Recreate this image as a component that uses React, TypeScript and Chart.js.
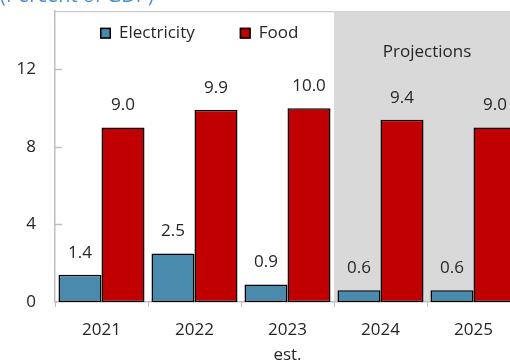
import React, { useEffect, useRef } from "react";
import { Chart, registerables } from "chart.js";

Chart.register(...registerables);

// ---- data ----
const categories: (string | string[])[] = ["2021", "2022", ["2023", "est."], "2024", "2025"];
const electricity = [1.4, 2.5, 0.9, 0.6, 0.6];
const food = [9.0, 9.9, 10.0, 9.4, 9.0];
const yTickValues = [0, 4, 8, 12];
const projectionStartIndex = 3;
const titleText = "(Percent of GDP)";
const projectionsText = "Projections";

const FONT = "'Open Sans', 'Noto Sans', sans-serif";
const FS = 17;
const TEXT = "#262626";
const AXIS = "#BFBFBF";

const CANVAS_W = 520;
const OFFSET_TOP = 18;
const CANVAS_H = 360 + OFFSET_TOP;

const framePlugin = {
  id: "frame",
  beforeDraw(chart: any) {
    const { ctx, chartArea, scales } = chart;
    const { left, right, top, bottom } = chartArea;
    ctx.save();
    ctx.strokeStyle = AXIS;
    ctx.lineWidth = 1;
    ctx.beginPath();
    ctx.moveTo(left, top + 0.5);
    ctx.lineTo(right, top + 0.5);
    ctx.stroke();
    const xs = scales.x.getPixelForValue(projectionStartIndex - 0.5);
    ctx.fillStyle = "#D9D9D9";
    ctx.fillRect(xs, top, right - xs, bottom - top);
    ctx.fillStyle = TEXT;
    ctx.font = `${FS}px ${FONT}`;
    ctx.textAlign = "center";
    ctx.textBaseline = "middle";
    ctx.fillText(projectionsText, (xs + right) / 2, top + 41);

    // legend inside plot area
    let x = left + 45;
    const cy = top + 22;
    ctx.textAlign = "left";
    chart.data.datasets.forEach((ds: any) => {
      ctx.fillStyle = ds.backgroundColor;
      ctx.fillRect(x, cy - 5.5, 11, 11);
      ctx.strokeStyle = "#000000";
      ctx.lineWidth = 1.5;
      ctx.strokeRect(x + 0.75, cy - 5.5 + 0.75, 9.5, 9.5);
      ctx.fillStyle = TEXT;
      const tx = x + 11 + 8;
      ctx.fillText(ds.label, tx, cy);
      x = tx + ctx.measureText(ds.label).width + 45;
    });
    ctx.restore();
  },
  afterDatasetsDraw(chart: any) {
    const { ctx, chartArea, scales } = chart;
    ctx.save();
    // inward y tick marks
    ctx.strokeStyle = AXIS;
    ctx.lineWidth = 1.5;
    yTickValues.forEach((v) => {
      if (v === 0) return;
      const y = Math.round(scales.y.getPixelForValue(v)) + 0.5;
      ctx.beginPath();
      ctx.moveTo(chartArea.left, y);
      ctx.lineTo(chartArea.left + 7, y);
      ctx.stroke();
    });
    // value labels
    ctx.fillStyle = TEXT;
    ctx.font = `${FS}px ${FONT}`;
    ctx.textAlign = "center";
    ctx.textBaseline = "middle";
    chart.data.datasets.forEach((ds: any, di: number) => {
      const meta = chart.getDatasetMeta(di);
      meta.data.forEach((el: any, i: number) => {
        const v = ds.data[i] as number;
        ctx.fillText(v.toFixed(1), el.x, el.y - 22);
      });
    });
    ctx.restore();
  },
};

export default function App() {
  const ref = useRef<HTMLCanvasElement | null>(null);

  useEffect(() => {
    const canvas = ref.current;
    if (!canvas) return;
    const chart = new Chart(canvas, {
      type: "bar",
      data: {
        labels: categories,
        datasets: [
          {
            label: "Electricity",
            data: electricity,
            backgroundColor: "#4A8BAD",
            borderColor: "#000000",
            borderWidth: 1.5,
            borderSkipped: false,
          },
          {
            label: "Food",
            data: food,
            backgroundColor: "#C00000",
            borderColor: "#000000",
            borderWidth: 1.5,
            borderSkipped: false,
          },
        ],
      },
      options: {
        animation: false,
        responsive: false,
        devicePixelRatio: 1,
        layout: { padding: 0 },
        datasets: {
          bar: { categoryPercentage: 0.925, barPercentage: 1 },
        },
        plugins: {
          tooltip: { enabled: false },
          title: {
            display: true,
            text: titleText,
            align: "start",
            color: "#4A90D0",
            font: { family: FONT, size: 20, weight: "normal", lineHeight: 1.4 },
            padding: { top: 0, bottom: 1 },
          },
          legend: { display: false },
        },
        scales: {
          x: {
            offset: true,
            grid: {
              display: true,
              drawOnChartArea: false,
              drawTicks: true,
              tickLength: 5,
              color: AXIS,
              offset: true,
            },
            border: { display: true, color: AXIS, width: 1.5 },
            ticks: {
              color: TEXT,
              font: { family: FONT, size: FS, lineHeight: 1.45 },
              padding: 11,
              maxRotation: 0,
              autoSkip: false,
            },
            afterFit(scale: any) {
              scale.height = 58;
            },
          },
          y: {
            min: 0,
            max: 15,
            grid: { display: false, drawTicks: false },
            border: { display: true, color: AXIS, width: 1.5 },
            ticks: {
              stepSize: 4,
              includeBounds: false,
              color: TEXT,
              font: { family: FONT, size: FS },
              padding: 19,
              callback: (v: any) => (yTickValues.includes(Number(v)) ? String(v) : ""),
            },
            afterFit(scale: any) {
              scale.width = 55;
            },
          },
        },
      },
      plugins: [framePlugin],
    } as any);
    return () => chart.destroy();
  }, []);

  return (
    <div
      style={{
        position: "fixed",
        left: 0,
        top: 0,
        width: 510,
        height: 360,
        overflow: "hidden",
        background: "#ffffff",
      }}
    >
      <canvas
        ref={ref}
        width={CANVAS_W}
        height={CANVAS_H}
        style={{
          position: "absolute",
          left: 0,
          top: -OFFSET_TOP,
          width: CANVAS_W,
          height: CANVAS_H,
        }}
      />
    </div>
  );
}
